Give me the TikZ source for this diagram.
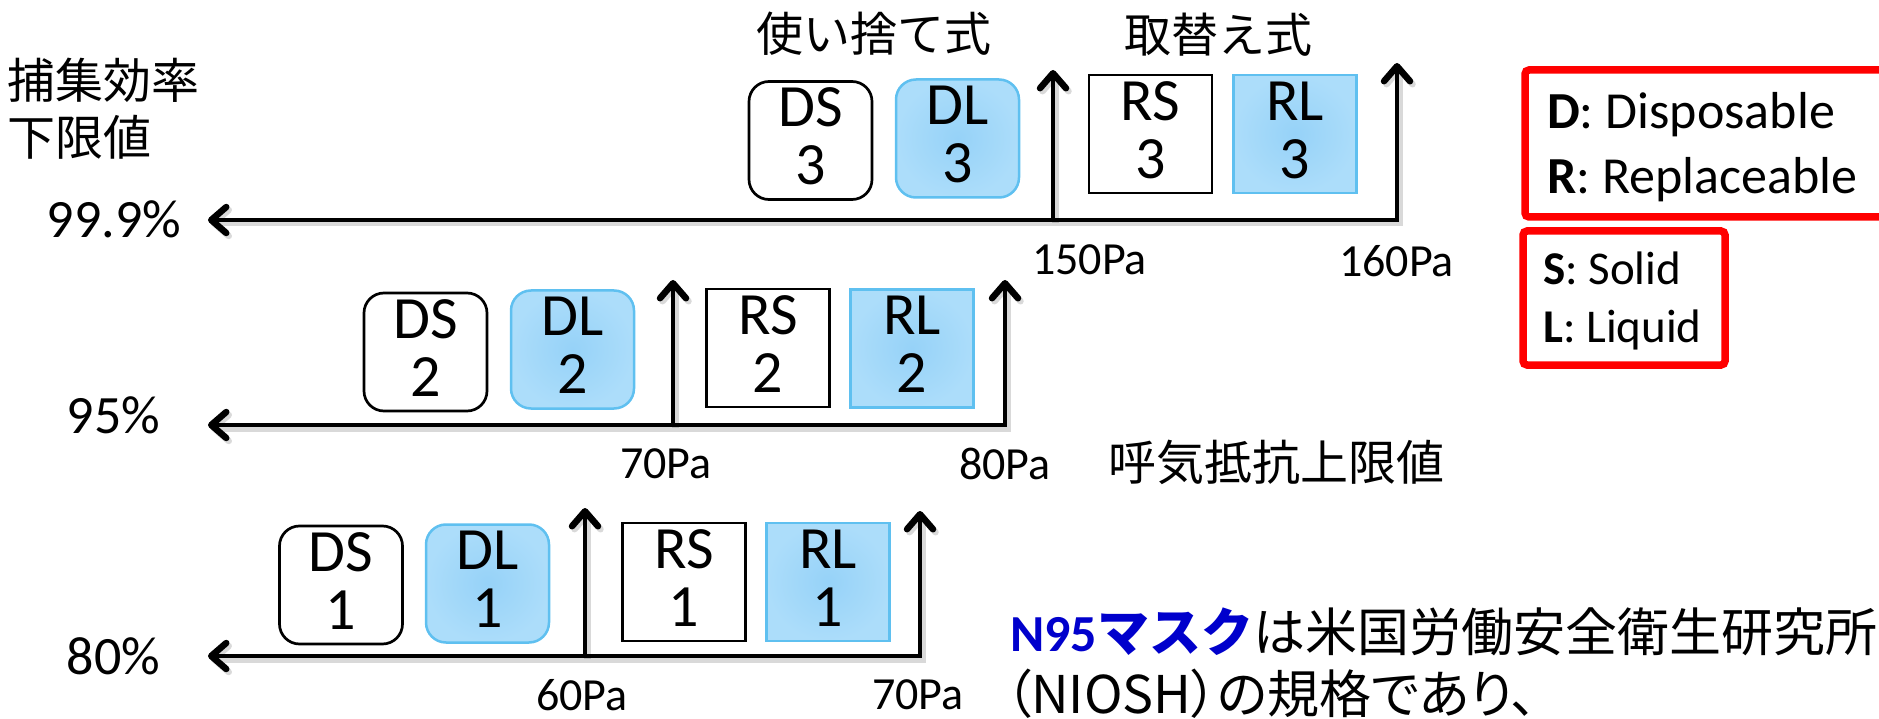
\documentclass[tikz,border=0pt]{standalone}
\usepackage{fontspec}
\setmainfont{Carlito}
\newfontfamily\jp{Noto Sans CJK JP}
\newfontfamily\jpp{Noto Sans CJK JP}[RawFeature=+palt]
\usetikzlibrary{arrows.meta}
\definecolor{boxblue}{RGB}{172,221,250}
\definecolor{boxbluein}{RGB}{150,210,248}
\definecolor{boxedge}{RGB}{95,192,240}
\definecolor{legred}{RGB}{255,0,0}
\definecolor{n95blue}{RGB}{0,0,204}
\begin{document}
\begin{tikzpicture}[x=1pt,y=-1pt,
  mbox/.style={minimum width=123pt,minimum height=118pt,inner sep=0pt,align=center,
    font=\fontsize{60}{58}\selectfont,text depth=8pt},
  dbox/.style={mbox,draw=black,line width=2.7pt,rounded corners=20pt,fill=white},
  dboxb/.style={mbox,draw=boxedge,line width=2.5pt,rounded corners=20pt,inner color=boxbluein,outer color=boxblue},
  rbox/.style={mbox,draw=black,line width=2.7pt,fill=white},
  rboxb/.style={mbox,draw=boxedge,line width=2.5pt,inner color=boxbluein,outer color=boxblue},
  axline/.style={line width=4.5pt,
    preaction={draw=black,opacity=0.15,line width=7pt,transform canvas={shift={(2.5pt,-3pt)}}}},
  tipd/.tip={Straight Barb[length=15pt,width=26pt,line width=6.5pt,round]},
  pct/.style={inner sep=0pt,font=\fontsize{54}{54}\selectfont},
  pa/.style={inner sep=0pt,font=\fontsize{46}{46}\selectfont},
  jlab/.style={inner sep=0pt,font=\jp\fontsize{47}{47}\selectfont},
  legbox/.style={draw=legred,line width=7.5pt,rounded corners=4pt,inner sep=0pt},
  legtxt/.style={inner sep=0pt,anchor=base west}
]
\useasboundingbox (0,0) rectangle (1879,719);
\fill[white] (0,0) rectangle (1879,719);

% headings
\node[jlab] (hd) at (873.5,34) {使い捨て式};
\node[jlab] (hr) at (1218,35) {取替え式};
\node[inner sep=0pt,font=\jp\fontsize{48}{48}\selectfont,anchor=west] (cap1) at (7,80) {捕集効率};
\node[inner sep=0pt,font=\jp\fontsize{48}{48}\selectfont,anchor=west] (cap2) at (7,137) {下限値};
\node[inner sep=0pt,font=\jp\fontsize{48}{48}\selectfont] (resist) at (1276,462.5) {呼気抵抗上限値};

% percentages
\node[pct] (p3) at (114,219) {99.9\%};
\node[pct] (p2) at (113.5,415) {95\%};
\node[pct] (p1) at (113.5,656) {80\%};

% Pa labels
\node[pa] (pa3a) at (1089.5,260) {150Pa};
\node[pa] (pa3b) at (1396.5,261) {160Pa};
\node[pa] (pa2a) at (666,464) {70Pa};
\node[pa] (pa2b) at (1005,464) {80Pa};
\node[pa] (pa1a) at (582,695) {60Pa};
\node[pa] (pa1b) at (918,695) {70Pa};

% row 3
\node[dbox]  (ds3) at (810.5,140.5) {DS\\3};
\node[dboxb] (dl3) at (957.5,138.5) {DL\\3};
\node[rbox]  (rs3) at (1150.5,134) {RS\\3};
\node[rboxb] (rl3) at (1295,134) {RL\\3};
% row 2
\node[dbox]  (ds2) at (425.5,352) {DS\\2};
\node[dboxb] (dl2) at (572.5,349.5) {DL\\2};
\node[rbox]  (rs2) at (768,348) {RS\\2};
\node[rboxb] (rl2) at (912,348.5) {RL\\2};
% row 1
\node[dbox]  (ds1) at (341,585) {DS\\1};
\node[dboxb] (dl1) at (487.5,583.5) {DL\\1};
\node[rbox]  (rs1) at (684,582) {RS\\1};
\node[rboxb] (rl1) at (828,582) {RL\\1};

% axes
\coordinate (a3L) at (208,220);
\coordinate (a3M) at (1053,220);
\coordinate (a3Mt) at (1053,70);
\coordinate (a3R) at (1397,220);
\coordinate (a3Rt) at (1397,63);
\coordinate (a2L) at (208,425);
\coordinate (a2M) at (673,425);
\coordinate (a2Mt) at (673,280);
\coordinate (a2R) at (1005,425);
\coordinate (a2Rt) at (1005,280);
\coordinate (a1L) at (208,656);
\coordinate (a1M) at (585,656);
\coordinate (a1Mt) at (585,508);
\coordinate (a1R) at (920,656);
\coordinate (a1Rt) at (920,511);

\draw[axline,tipd-tipd] (a3Rt) -- (a3R) -- (a3L);
\draw[axline,-tipd] (a3M) -- (a3Mt);
\draw[axline,tipd-tipd] (a2Rt) -- (a2R) -- (a2L);
\draw[axline,-tipd] (a2M) -- (a2Mt);
\draw[axline,tipd-tipd] (a1Rt) -- (a1R) -- (a1L);
\draw[axline,-tipd] (a1M) -- (a1Mt);

% legend
\node[legbox,minimum width=360pt,minimum height=147pt] (leg1) at (1705,143.5) {};
\node[legbox,minimum width=202pt,minimum height=134pt] (leg2) at (1624,298) {};
\node[legtxt,font=\fontsize{52}{52}\selectfont] (lD) at (1547,129) {\textbf{D}: Disposable};
\node[legtxt,font=\fontsize{52}{52}\selectfont] (lR) at (1547,194) {\textbf{R}: Replaceable};
\node[legtxt,font=\fontsize{47}{47}\selectfont] (lS) at (1543,285) {\textbf{S}: Solid};
\node[legtxt,font=\fontsize{47}{47}\selectfont] (lL) at (1543,342) {\textbf{L}: Liquid};

% note
\node[inner sep=0pt,anchor=west,font=\fontsize{52}{52}\selectfont] (n1) at (1010,632)
  {\textcolor{n95blue}{\bfseries N95{\jp マスク}}{\jp は米国労働安全衛生研究所}};
\node[inner sep=0pt,anchor=west,font=\jpp\fontsize{52}{52}\selectfont] (n2) at (1005,694)
  {（NIOSH）の規格であり、};
\end{tikzpicture}
\end{document}
